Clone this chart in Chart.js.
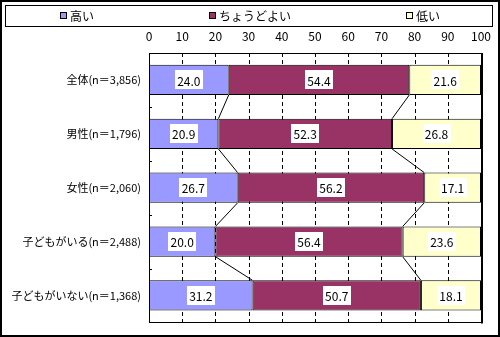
<!DOCTYPE html>
<html><head><meta charset="utf-8">
<script src="https://cdn.jsdelivr.net/npm/chart.js@4"></script>
<style>html,body{margin:0;padding:0;background:#fff}#wrap{width:500px;height:337px}</style>
</head><body><div id="wrap"><canvas id="c" width="500" height="337"></canvas></div>
<script>
const categories = ['全体(n＝3,856)', '男性(n＝1,796)', '女性(n＝2,060)', '子どもがいる(n＝2,488)', '子どもがいない(n＝1,368)'];
const seriesNames = ['高い', 'ちょうどよい', '低い'];
const highValues = [24.0, 20.9, 26.7, 20.0, 31.2];
const justValues = [54.4, 52.3, 56.2, 56.4, 50.7];
const lowValues = [21.6, 26.8, 17.1, 23.6, 18.1];
const xTickValues = [0, 10, 20, 30, 40, 50, 60, 70, 80, 90, 100];
const seriesColors = ['#9999FF', '#993366', '#FFFFCC'];

const FONT = '"Noto Sans CJK JP", "Noto Sans", sans-serif';

const decor = {
  id: 'decor',
  beforeDraw(chart) {
    const ctx = chart.ctx;
    ctx.save();
    ctx.fillStyle = '#fff';
    ctx.fillRect(0, 0, chart.width, chart.height);
    ctx.restore();
  },
  beforeDatasetsDraw(chart) {
    const ctx = chart.ctx, a = chart.chartArea, xs = chart.scales.x;
    ctx.save();
    ctx.strokeStyle = '#000';
    ctx.lineWidth = 1;
    ctx.setLineDash([4, 3]);
    xTickValues.forEach(v => {
      if (v === xs.min || v === xs.max) return;
      const x = Math.round(xs.getPixelForValue(v)) + 0.5;
      ctx.beginPath();
      ctx.moveTo(x, a.top);
      ctx.lineTo(x, a.bottom);
      ctx.stroke();
    });
    ctx.restore();
  },
  afterDatasetsDraw(chart) {
    const ctx = chart.ctx, a = chart.chartArea, ys = chart.scales.y;
    ctx.save();
    ctx.strokeStyle = '#000';
    ctx.lineWidth = 1;
    for (let d = 0; d < 2; d++) {
      const meta = chart.getDatasetMeta(d);
      for (let i = 0; i < meta.data.length - 1; i++) {
        const e1 = meta.data[i], e2 = meta.data[i + 1];
        ctx.beginPath();
        ctx.moveTo(e1.x, e1.y + e1.height / 2);
        ctx.lineTo(e2.x, e2.y - e2.height / 2);
        ctx.stroke();
      }
    }
    ctx.font = '12px ' + FONT;
    ctx.textAlign = 'center';
    ctx.textBaseline = 'middle';
    chart.data.datasets.forEach((ds, d) => {
      const meta = chart.getDatasetMeta(d);
      meta.data.forEach((e, i) => {
        const txt = ds.data[i].toFixed(1);
        const cx = (e.x + e.base) / 2, cy = e.y;
        const w = Math.ceil(ctx.measureText(txt).width) + 4, h = 19;
        ctx.fillStyle = '#fff';
        ctx.fillRect(Math.round(cx - w / 2), Math.round(cy - h / 2), w, h);
        ctx.fillStyle = '#000';
        ctx.fillText(txt, cx, cy + 1);
      });
    });
    ctx.strokeStyle = '#000';
    ctx.lineWidth = 1;
    ctx.strokeRect(Math.round(a.left) + 0.5, Math.round(a.top) + 0.5, Math.round(a.right - a.left), Math.round(a.bottom - a.top));
    ctx.lineWidth = 2;
    ctx.beginPath();
    ctx.moveTo(Math.round(a.right) + 1, a.top);
    ctx.lineTo(Math.round(a.right) + 1, a.bottom + 1);
    ctx.stroke();
    ctx.lineWidth = 1;
    const n = categories.length;
    for (let i = 1; i < n; i++) {
      const y = Math.round((ys.getPixelForValue(i - 1) + ys.getPixelForValue(i)) / 2) + 0.5;
      ctx.beginPath();
      ctx.moveTo(a.left, y);
      ctx.lineTo(a.left + 3, y);
      ctx.stroke();
    }
    ctx.restore();
  },
  afterDraw(chart) {
    const ctx = chart.ctx;
    ctx.save();
    ctx.strokeStyle = '#000';
    ctx.lineWidth = 1;
    ctx.strokeRect(5.5, 5.5, 487, 21);
    ctx.font = '12px ' + FONT;
    ctx.textBaseline = 'middle';
    ctx.textAlign = 'left';
    const box = 7, gapBT = 3, gap = 115;
    const items = chart.data.datasets.map(ds => ({
      label: ds.label, color: ds.backgroundColor,
      w: box + gapBT + ctx.measureText(ds.label).width
    }));
    const total = items.reduce((s, it) => s + it.w, 0) + gap * (items.length - 1);
    let x = Math.round(250 - total / 2);
    const cy = 16;
    items.forEach(it => {
      ctx.fillStyle = it.color;
      ctx.fillRect(x, cy - 4, box, box);
      ctx.strokeStyle = '#000';
      ctx.strokeRect(x + 0.5, cy - 3.5, box - 1, box - 1);
      ctx.fillStyle = '#000';
      ctx.fillText(it.label, x + box + gapBT, cy);
      x += it.w + gap;
    });
    ctx.lineWidth = 2;
    ctx.strokeRect(1, 1, chart.width - 2, chart.height - 2);
    ctx.restore();
  }
};

const valueSets = [highValues, justValues, lowValues];
new Chart(document.getElementById('c'), {
  type: 'bar',
  data: {
    labels: categories,
    datasets: seriesNames.map((name, k) => ({
      label: name,
      data: valueSets[k],
      backgroundColor: seriesColors[k],
      borderColor: '#000',
      borderWidth: 1,
      borderSkipped: false,
      categoryPercentage: 1.0,
      barPercentage: 0.56
    }))
  },
  options: {
    indexAxis: 'y',
    responsive: false,
    animation: false,
    devicePixelRatio: 1,
    layout: { padding: { left: 2, right: 15, top: 27, bottom: 6 } },
    plugins: { legend: { display: false }, tooltip: { enabled: false } },
    scales: {
      x: {
        position: 'top', stacked: true, min: 0, max: 100,
        afterBuildTicks: s => { s.ticks = xTickValues.map(v => ({ value: v })); },
        ticks: { font: { family: FONT, size: 12 }, color: '#000', padding: 9, maxRotation: 0 },
        grid: { display: false, drawTicks: false },
        border: { display: false },
        afterFit: s => { s.height = 26; }
      },
      y: {
        stacked: true,
        ticks: { font: { family: FONT, size: 11 }, color: '#000', padding: 8 },
        grid: { display: false, drawTicks: false },
        border: { display: false },
        afterFit: s => { s.width = 147; }
      }
    }
  },
  plugins: [decor]
});
</script>
</body></html>
